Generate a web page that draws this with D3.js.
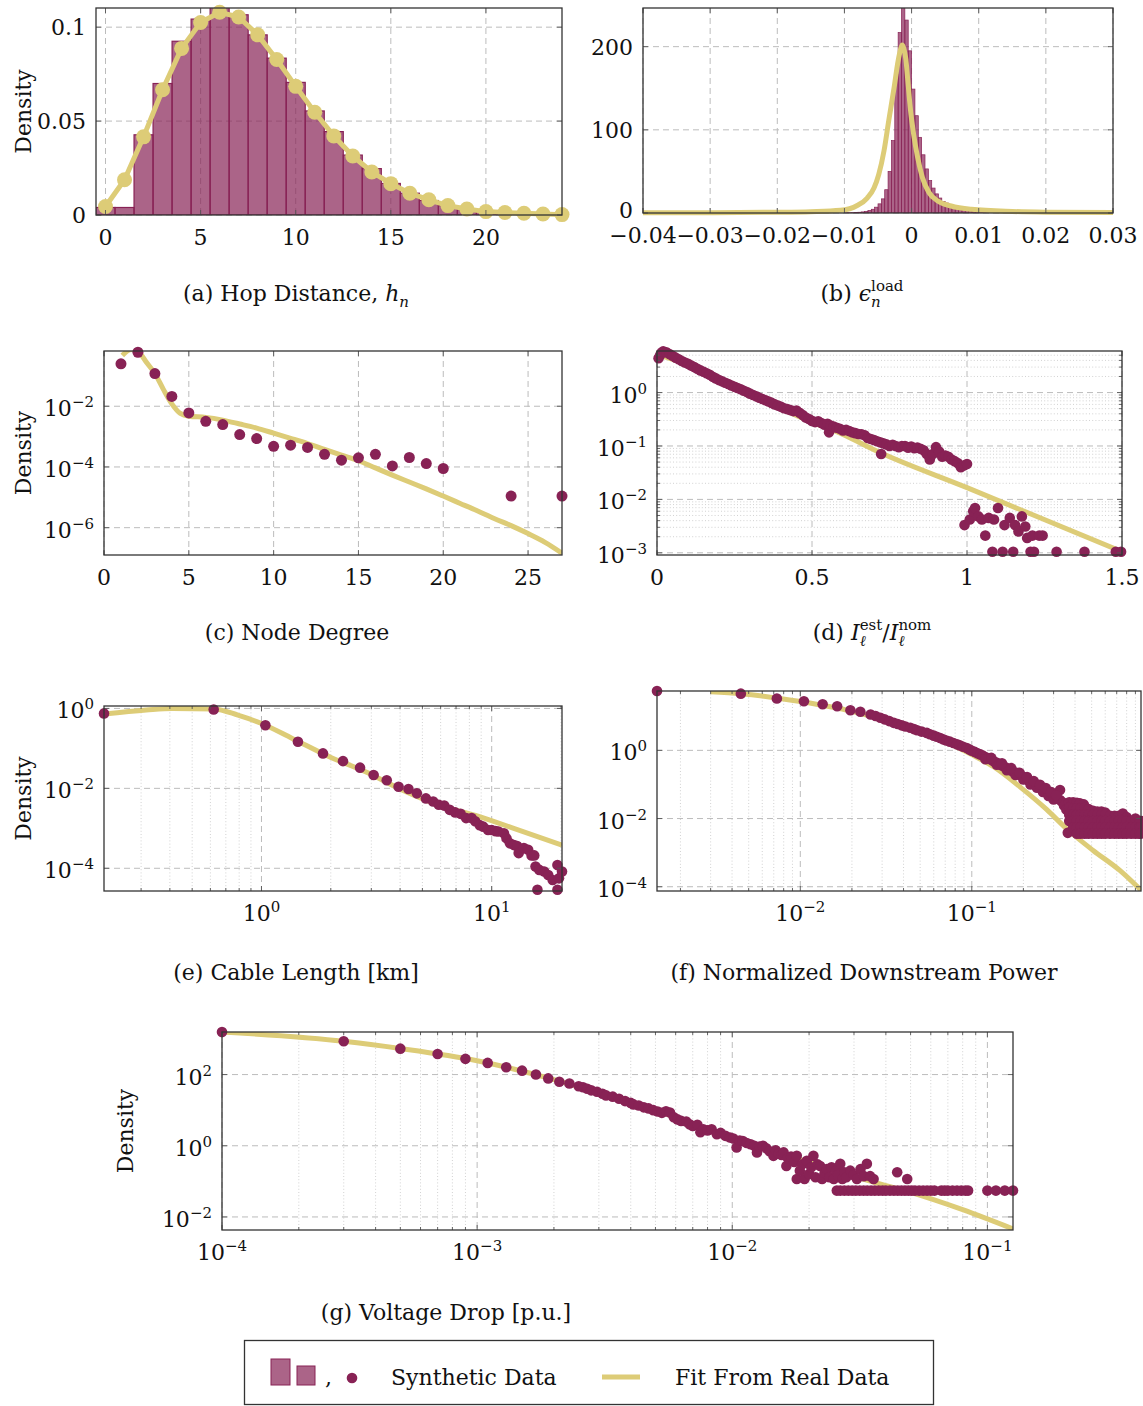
<!DOCTYPE html>
<html>
<head>
<meta charset="utf-8">
<script src="https://cdn.jsdelivr.net/npm/d3@7/dist/d3.min.js"></script>
<style>
html,body{margin:0;padding:0;background:#fff;}
svg text{font-family:"DejaVu Serif","Liberation Serif",serif;fill:#111;white-space:pre;}
</style>
</head>
<body>
<svg id="chart" width="1143" height="1406" xmlns="http://www.w3.org/2000/svg"></svg>
<script>
// ================= DATA =================
// (a) Hop distance
const hopBins=[0,1,2,3,4,5,6,7,8,9,10,11,12,13,14,15,16,17,18,19,20,21,22,23];
const hopDensity=[0.004,0.004,0.0427,0.070,0.0925,0.1043,0.113,0.1066,0.0959,0.0835,0.0706,0.0554,0.0444,0.0319,0.0247,0.0168,0.0116,0.0077,0.005,0.0029,0.0018,0.001,0.0005,0.0003];
const hopFitX=[0,1,2,3,4,5,6,7,8,9,10,11,12,13,14,15,16,17,18,19,20,21,22,23,24];
const hopFit=[0.0045,0.0188,0.0416,0.0667,0.0887,0.1025,0.1079,0.1054,0.0959,0.0828,0.0685,0.0547,0.0421,0.0314,0.0229,0.0167,0.0116,0.0081,0.005,0.0032,0.0018,0.0013,0.0009,0.0005,0.0002];
const hopXTicks=[0,5,10,15,20], hopXLabels=['0','5','10','15','20'];
const hopYTicks=[0,0.05,0.1], hopYLabels=['0','0.05','0.1'];

// (b) load error
const loadBinWidth=0.0005;
const loadBinLeft=[-0.0100,-0.0095,-0.0090,-0.0085,-0.0080,-0.0075,-0.0070,-0.0065,-0.0060,-0.0055,-0.0050,-0.0045,-0.0040,-0.0035,-0.0030,-0.0025,-0.0020,-0.0015,-0.0010,-0.0005,0.0000,0.0005,0.0010,0.0015,0.0020,0.0025,0.0030,0.0035,0.0040,0.0045,0.0050,0.0055,0.0060,0.0065,0.0070,0.0075,0.0080,0.0085,0.0090,0.0095,0.0100,0.0105,0.0110,0.0115,0.0120,0.0125,0.0130,0.0135];
const loadDensity=[0.2,0.3,0.4,0.6,0.9,1.3,2,3,4.5,7,11,17,28,50,87,167,217,260,232,195,149,117,91,70,53,39,30,23,18,14,12,9,7,6,4.5,3.5,3,2.5,2,1.7,1.4,1.2,1,0.8,0.6,0.5,0.4,0.3];
const loadFit=[[-0.04,0.25],[-0.03,0.4],[-0.02,0.9],[-0.015,1.6],[-0.0106,3.2],[-0.0081,9],[-0.0066,18],[-0.0056,30],[-0.0049,46],[-0.0041,75],[-0.0034,111],[-0.0026,151],[-0.002,183],[-0.0016,198],[-0.0014,202],[-0.0012,199],[-0.00085,185],[-0.0006,163],[-0.0002,127],[0.0003,95],[0.0009,67],[0.0016,43],[0.0026,24.5],[0.0039,14.5],[0.0059,8.4],[0.0089,4.4],[0.015,1.8],[0.02,1.0],[0.03,0.5]];
const loadXTicks=[-0.04,-0.03,-0.02,-0.01,0,0.01,0.02,0.03];
const loadXLabels=['\u22120.04','\u22120.03','\u22120.02','\u22120.01','0','0.01','0.02','0.03'];
const loadYTicks=[0,100,200], loadYLabels=['0','100','200'];

// (c) node degree
const degX=[1,2,3,4,5,6,7,8,9,10,11,12,13,14,15,16,17,18,19,20,24,27];
const degDensity=[0.25,0.6,0.119,0.021,0.006,0.0032,0.0025,0.00117,0.00086,0.00048,0.00052,0.00044,0.00026,0.000167,0.0002,0.00026,0.000108,0.000205,0.000129,0.000089,1.1e-5,1.1e-5];
const degFit=[[1.08,0.47],[1.5,0.72],[1.8,0.76],[2.1,0.58],[2.5,0.28],[3,0.12],[3.5,0.036],[4,0.012],[4.5,0.0058],[5,0.0047],[6,0.0043],[7,0.0035],[8,0.0026],[9,0.0019],[10,0.0013],[11,0.00088],[12,0.00059],[13,0.00038],[14,0.000245],[15,0.00016],[16,9.3e-5],[17,5.4e-5],[18,3.2e-5],[19,1.9e-5],[20,1.1e-5],[21,6.3e-6],[22,3.6e-6],[23,2.0e-6],[24,1.17e-6],[25,6.4e-7],[26,3.3e-7],[27,1.45e-7]];
const degXTicks=[0,5,10,15,20,25], degXLabels=['0','5','10','15','20','25'];
const degYTicks=[1e-2,1e-4,1e-6], degYExp=['\u22122','\u22124','\u22126'];

// (d) current ratio
const curDots=[[0.005,4.4],[0.01,5.0],[0.015,5.6],[0.02,5.9],[0.03,5.7],[0.04,5.25],[0.05,4.9],[0.06,4.5],[0.07,4.2],[0.08,3.9],[0.09,3.65],[0.10,3.45],[0.11,3.2],[0.12,3.0],[0.13,2.8],[0.14,2.6],[0.15,2.45],[0.16,2.3],[0.17,2.15],[0.18,1.97],[0.19,1.84],[0.20,1.71],[0.21,1.62],[0.22,1.53],[0.23,1.45],[0.24,1.36],[0.25,1.28],[0.26,1.22],[0.27,1.15],[0.28,1.08],[0.29,1.02],[0.30,0.955],[0.31,0.90],[0.32,0.85],[0.33,0.80],[0.34,0.76],[0.35,0.72],[0.36,0.68],[0.37,0.64],[0.38,0.60],[0.39,0.57],[0.40,0.54],[0.41,0.51],[0.42,0.49],[0.43,0.47],[0.44,0.45],[0.45,0.46],[0.46,0.42],[0.47,0.38],[0.48,0.34],[0.49,0.32],[0.50,0.295],[0.51,0.28],[0.52,0.29],[0.53,0.27],[0.54,0.25],[0.55,0.26],[0.555,0.18],[0.56,0.24],[0.57,0.23],[0.58,0.22],[0.59,0.21],[0.60,0.195],[0.61,0.2],[0.62,0.19],[0.63,0.18],[0.64,0.174],[0.65,0.168],[0.66,0.166],[0.67,0.158],[0.68,0.141],[0.69,0.135],[0.70,0.129],[0.71,0.123],[0.72,0.117],[0.723,0.071],[0.73,0.112],[0.74,0.107],[0.75,0.1],[0.76,0.105],[0.77,0.1],[0.78,0.095],[0.79,0.1],[0.80,0.1],[0.81,0.093],[0.82,0.098],[0.83,0.091],[0.84,0.093],[0.85,0.089],[0.86,0.083],[0.87,0.071],[0.88,0.056],[0.89,0.071],[0.90,0.095],[0.91,0.079],[0.92,0.063],[0.93,0.066],[0.94,0.063],[0.95,0.056],[0.96,0.052],[0.97,0.048],[0.98,0.04],[0.99,0.043],[1.00,0.046],
 [0.992,0.0033],[1.009,0.0042],[1.02,0.006],[1.026,0.0069],[1.037,0.0048],[1.048,0.0042],[1.059,0.0021],[1.07,0.0045],[1.087,0.0042],[1.10,0.0069],[1.082,0.00105],[1.115,0.00105],[1.121,0.0033],[1.138,0.0045],[1.149,0.00105],[1.155,0.0033],[1.166,0.0025],[1.177,0.0048],[1.188,0.0031],[1.194,0.0019],[1.205,0.00105],[1.211,0.0021],[1.216,0.00105],[1.233,0.0021],[1.244,0.0021],[1.289,0.00105],[1.379,0.00105],[1.48,0.00105],[1.497,0.00105]];
const curFit=[[0,5.2],[0.1,3.3],[0.25,1.2],[0.4,0.5],[0.5,0.28],[0.6,0.165],[0.7,0.085],[1.0,0.0166],[1.5,0.00105]];
const curXTicks=[0,0.5,1,1.5], curXLabels=['0','0.5','1','1.5'];
const curYTicks=[1,0.1,0.01,0.001], curYExp=['0','\u22121','\u22122','\u22123'];

// (e) cable length
const cabDots=[[0.207,0.75],[0.62,0.94],[1.04,0.38],[1.44,0.147],[1.85,0.075],[2.26,0.048],[2.68,0.033],[3.07,0.0215],[3.5,0.016],[3.94,0.011],[4.35,0.0096],[4.73,0.0075],[5.18,0.0056],[5.57,0.0047],[5.89,0.0039],[6.22,0.0037],[6.57,0.0029],[6.94,0.0025],[7.33,0.0023],[7.74,0.0018],[8.18,0.0018],[8.48,0.0015],[8.87,0.0012],[9.19,0.0011],[9.64,0.00091],[10.0,0.00091],[10.4,0.00085],[10.7,0.00083],[11.3,0.00075],[11.6,0.00056],[12.0,0.00042],[12.5,0.00038],[12.9,0.00036],[13.1,0.00024],[13.8,0.00032],[14.4,0.00029],[14.9,0.00021],[15.3,0.00021],[15.5,0.00011],[16.1,9.1e-5],[15.8,2.9e-5],[16.9,8.3e-5],[17.6,6.8e-5],[18.4,5.1e-5],[19.3,0.00012],[19.3,2.9e-5],[19.6,5.6e-5],[20.2,8.3e-5]];
const cabFit=[[0.207,0.72],[0.316,0.91],[0.41,1.0],[0.62,0.97],[0.79,0.68],[1.0,0.42],[1.36,0.178],[1.97,0.062],[2.83,0.026],[4.08,0.0091],[5.9,0.0038],[8.5,0.0021],[12.2,0.00104],[20.2,0.00038]];
const cabXTicks=[1,10], cabXExp=['0','1'];
const cabYTicks=[1,0.01,1e-4], cabYExp=['0','\u22122','\u22124'];

// (f) normalized downstream power
const powDots=[[0.00146,55],[0.0045,46],[0.0073,33],[0.0105,27.6],[0.0135,22.5],[0.0164,19.6],[0.0196,15],[0.0224,13.5],[0.0257,11.3],[0.0275,10.2],[0.0293,9.0],[0.031,8.1],[0.033,7.2],[0.0351,6.4],[0.037,5.9],[0.039,5.4],[0.041,5.0],[0.0438,4.6],[0.046,4.2],[0.048,3.9],[0.051,3.55],[0.0547,3.25],[0.057,2.95],[0.06,2.7],[0.0625,2.5],[0.0654,2.3],[0.068,2.1],[0.071,1.95],[0.0745,1.8],[0.0782,1.65],[0.082,1.5],[0.085,1.4],[0.089,1.28],[0.0935,1.17],[0.097,1.05],[0.1,0.97],[0.104,0.9],[0.108,0.82],[0.112,0.76],[0.116,0.7],[0.12,0.64],[0.125,0.58],[0.13,0.53],[0.134,0.48],[0.139,0.44],[0.144,0.4],[0.15,0.36],[0.155,0.33],[0.16,0.3],[0.166,0.27],[0.172,0.245],[0.178,0.225],[0.184,0.205],[0.191,0.19],[0.198,0.17],[0.205,0.15],[0.212,0.135],[0.22,0.12],[0.228,0.108],[0.236,0.096],[0.245,0.086],[0.254,0.077],[0.263,0.069],[0.273,0.061],[0.283,0.054],[0.293,0.048],[0.305,0.043],[0.315,0.039],[0.327,0.069],[0.327,0.035],[0.338,0.03],[0.345,0.024],[0.356,0.0185],[0.363,0.0038],
 [0.12,0.55],[0.14,0.38],[0.16,0.26],[0.18,0.19],[0.2,0.14],[0.22,0.1],[0.24,0.08],[0.26,0.06],[0.28,0.046],[0.3,0.036],[0.13,0.6],[0.15,0.42],[0.17,0.3],[0.19,0.22],[0.21,0.165],[0.23,0.125],[0.25,0.098],[0.27,0.078],[0.29,0.06],[0.31,0.048],
 [0.37,0.03],[0.39,0.03],[0.41,0.029],[0.427,0.028],[0.45,0.026],
 [0.37,0.021],[0.39,0.02],[0.41,0.02],[0.43,0.02],[0.455,0.021],[0.48,0.019],[0.51,0.017],[0.54,0.016],[0.57,0.016],[0.6,0.015],
 [0.37,0.013],[0.39,0.013],[0.41,0.013],[0.43,0.013],[0.455,0.013],[0.48,0.013],[0.51,0.013],[0.54,0.013],[0.57,0.013],[0.6,0.013],[0.64,0.012],[0.68,0.012],[0.72,0.012],[0.76,0.014],[0.8,0.011],
 [0.37,0.0085],[0.39,0.0085],[0.41,0.0085],[0.43,0.0085],[0.455,0.0085],[0.48,0.0085],[0.51,0.0085],[0.54,0.0085],[0.57,0.0085],[0.6,0.0085],[0.64,0.0085],[0.68,0.0085],[0.72,0.0085],[0.76,0.0085],[0.8,0.0085],[0.85,0.0085],[0.9,0.01],[0.95,0.0085],[0.97,0.0085],
 [0.39,0.0055],[0.41,0.0055],[0.43,0.0055],[0.455,0.0055],[0.48,0.0055],[0.51,0.0055],[0.54,0.0055],[0.57,0.0055],[0.6,0.0055],[0.64,0.0055],[0.68,0.0055],[0.72,0.0055],[0.76,0.0055],[0.8,0.0055],[0.85,0.0055],[0.9,0.0055],[0.95,0.0055],[0.97,0.0055],
 [0.41,0.0036],[0.43,0.0036],[0.455,0.0036],[0.48,0.0036],[0.51,0.0036],[0.54,0.0036],[0.57,0.0036],[0.6,0.0036],[0.64,0.0036],[0.68,0.0036],[0.72,0.0036],[0.76,0.0036],[0.8,0.0036],[0.85,0.0036],[0.9,0.0036],[0.95,0.0036],[0.97,0.0036]];
const powFit=[[0.003,52],[0.0045,46],[0.01,27],[0.02,14],[0.05,3.4],[0.07,1.8],[0.1,0.75],[0.134,0.33],[0.191,0.085],[0.273,0.0185],[0.356,0.0051],[0.51,0.00116],[0.73,3.0e-4],[0.97,7.9e-5]];
const powXTicks=[0.01,0.1], powXExp=['\u22122','\u22121'];
const powYTicks=[1,0.01,1e-4], powYExp=['0','\u22122','\u22124'];

// (g) voltage drop
const vdDots=[[0.0001,1570],[0.0003,860],[0.0005,535],[0.0007,380],[0.0009,276],[0.0011,213],[0.0013,160],[0.0015,129],[0.0017,100],[0.0019,78],[0.0021,63],[0.0023,56],[0.0025,47],[0.0026,44],[0.0027,40],[0.0028,36],[0.00295,33],[0.0031,29],[0.0032,26],[0.0034,24],[0.0036,21],[0.0038,18],[0.0040,16],[0.0041,14.5],[0.0043,13.5],[0.0045,12],[0.0047,11.2],[0.0049,10],[0.0051,9.2],[0.0053,8.4],[0.0055,9.3],[0.0057,8.6],[0.0059,6.3],[0.0061,5.5],[0.0063,5.0],[0.0066,4.8],[0.0068,4.0],[0.0070,3.6],[0.0073,3.9],[0.0075,2.4],[0.0077,2.9],[0.0080,2.7],[0.0083,2.9],[0.0087,2.1],[0.0090,2.3],[0.0094,1.9],[0.0098,1.7],[0.0101,1.6],[0.0104,0.9],[0.0107,1.4],[0.0110,1.35],[0.0114,1.2],[0.0118,1.1],[0.0122,1.0],[0.0125,0.65],[0.0128,0.95],[0.0132,1.0],[0.0136,0.85],[0.014,0.7],[0.0145,0.52],[0.0148,0.75],[0.0152,0.6],[0.0156,0.55],[0.0159,0.65],[0.0163,0.27],[0.0165,0.45],[0.0170,0.5],[0.0175,0.35],[0.0179,0.52],[0.0179,0.116],[0.0184,0.2],[0.0188,0.3],[0.0192,0.116],[0.0196,0.38],[0.0200,0.16],[0.0204,0.25],[0.0208,0.52],[0.0212,0.13],[0.0216,0.3],[0.0221,0.27],[0.0225,0.116],[0.0230,0.17],[0.0235,0.22],[0.0240,0.13],[0.0245,0.25],[0.0250,0.116],[0.0255,0.2],[0.0260,0.15],[0.0265,0.31],[0.0270,0.116],[0.0275,0.18],[0.0280,0.13],[0.0290,0.2],[0.0299,0.15],[0.0308,0.116],[0.0318,0.22],[0.0328,0.14],[0.0337,0.31],[0.0347,0.14],[0.0358,0.116],[0.0443,0.18],[0.0485,0.116],
 [0.0257,0.055],[0.0265,0.055],[0.0275,0.055],[0.0285,0.055],[0.0295,0.055],[0.0305,0.055],[0.0316,0.055],[0.0327,0.055],[0.0338,0.055],[0.035,0.055],[0.0362,0.055],[0.0375,0.055],[0.0388,0.055],[0.04,0.055],[0.0415,0.055],[0.043,0.055],[0.0445,0.055],[0.046,0.055],[0.0475,0.055],[0.049,0.055],[0.0505,0.055],[0.052,0.055],[0.054,0.055],[0.056,0.055],[0.058,0.055],[0.06,0.055],[0.062,0.055],[0.066,0.055],[0.068,0.055],[0.070,0.055],[0.073,0.055],[0.076,0.055],[0.079,0.055],[0.082,0.055],[0.084,0.055],[0.1,0.055],[0.108,0.055],[0.117,0.055],[0.126,0.055]];
const vdFit=[[1e-4,1570],[3e-4,860],[5e-4,540],[1e-3,245],[2e-3,72],[3e-3,30],[5e-3,10],[0.0075,3.4],[0.01,1.6],[0.015,0.65],[0.02,0.34],[0.036,0.094],[0.05,0.049],[0.08,0.016],[0.126,0.0046]];
const vdXTicks=[1e-4,1e-3,1e-2,1e-1], vdXExp=['\u22124','\u22123','\u22122','\u22121'];
const vdYTicks=[100,1,0.01], vdYExp=['2','0','\u22122'];

// legend
const legendLabels=['Synthetic Data','Fit From Real Data'];

// ================= DRAWING =================
const WINE='#882255', SAND='#DDCC77';
const svg=d3.select('#chart');
svg.append('rect').attr('width',1143).attr('height',1406).attr('fill','#fff');
const defs=svg.append('defs');
const FS=22;

function logMinor(dom){
  const lo=Math.min(dom[0],dom[1]), hi=Math.max(dom[0],dom[1]), out=[];
  for(let k=Math.floor(Math.log10(lo));k<=Math.ceil(Math.log10(hi));k++)
    for(let m=2;m<=9;m++){const v=m*Math.pow(10,k); if(v>=lo*1.001&&v<=hi*0.999) out.push(v);}
  return out;
}
function expLabel(sel,e){
  sel.append('tspan').text('10');
  sel.append('tspan').attr('dy',-9).attr('font-size',15).text(e);
}
let clipN=0;
function panel(o){
  const g=svg.append('g');
  const x=(o.xLog?d3.scaleLog():d3.scaleLinear()).domain(o.xDomain).range([o.l,o.r]);
  const y=(o.yLog?d3.scaleLog():d3.scaleLinear()).domain(o.yDomain).range([o.b,o.t]);
  const id='clip'+(++clipN);
  defs.append('clipPath').attr('id',id).append('rect').attr('x',o.l).attr('y',o.t).attr('width',o.r-o.l).attr('height',o.b-o.t);
  const xMinor=o.xLog?logMinor(o.xDomain):[];
  const yMinor=o.yLog?logMinor(o.yDomain):[];
  const grid=g.append('g');
  if(o.xMinorGrid) grid.append('g').selectAll('line').data(xMinor).join('line')
     .attr('x1',d=>x(d)).attr('x2',d=>x(d)).attr('y1',o.t).attr('y2',o.b)
     .attr('stroke','#c6c6c6').attr('stroke-width',0.8).attr('stroke-dasharray','1 2.2');
  if(o.yMinorGrid) grid.append('g').selectAll('line').data(yMinor).join('line')
     .attr('y1',d=>y(d)).attr('y2',d=>y(d)).attr('x1',o.l).attr('x2',o.r)
     .attr('stroke','#c6c6c6').attr('stroke-width',0.8).attr('stroke-dasharray','1 2.2');
  grid.append('g').selectAll('line').data(o.xTicks).join('line')
     .attr('x1',d=>x(d)).attr('x2',d=>x(d)).attr('y1',o.t).attr('y2',o.b)
     .attr('stroke','#bcbcbc').attr('stroke-width',1).attr('stroke-dasharray','6 4');
  grid.append('g').selectAll('line').data(o.yTicks).join('line')
     .attr('y1',d=>y(d)).attr('y2',d=>y(d)).attr('x1',o.l).attr('x2',o.r)
     .attr('stroke','#bcbcbc').attr('stroke-width',1).attr('stroke-dasharray','6 4');
  const plot=g.append('g');
  const clipped=plot.append('g').attr('clip-path',`url(#${id})`);
  const free=plot.append('g');
  const ax=g.append('g');
  const tickCol='#555';
  function xMarks(vals,len){
    ax.append('g').selectAll('line').data(vals).join('line').attr('x1',d=>x(d)).attr('x2',d=>x(d)).attr('y1',o.b).attr('y2',o.b-len).attr('stroke',tickCol).attr('stroke-width',0.9);
    ax.append('g').selectAll('line').data(vals).join('line').attr('x1',d=>x(d)).attr('x2',d=>x(d)).attr('y1',o.t).attr('y2',o.t+len).attr('stroke',tickCol).attr('stroke-width',0.9);
  }
  function yMarks(vals,len){
    ax.append('g').selectAll('line').data(vals).join('line').attr('y1',d=>y(d)).attr('y2',d=>y(d)).attr('x1',o.l).attr('x2',o.l+len).attr('stroke',tickCol).attr('stroke-width',0.9);
    ax.append('g').selectAll('line').data(vals).join('line').attr('y1',d=>y(d)).attr('y2',d=>y(d)).attr('x1',o.r).attr('x2',o.r-len).attr('stroke',tickCol).attr('stroke-width',0.9);
  }
  xMarks(o.xTicks,5); yMarks(o.yTicks,5);
  if(o.xLog) xMarks(xMinor,3);
  if(o.yLog && o.yMinorTicks) yMarks(yMinor,3);
  ax.append('g').selectAll('text').data(o.xTicks).join('text')
    .attr('x',d=>x(d)).attr('y',o.b+30).attr('text-anchor','middle').attr('font-size',FS)
    .each(function(d,i){const s=d3.select(this); if(o.xExp) expLabel(s,o.xExp[i]); else s.text(o.xLabels[i]);});
  ax.append('g').selectAll('text').data(o.yTicks).join('text')
    .attr('x',o.l-10).attr('y',(d,i)=>y(d)+(o.yExp?10:8)-((o.yLift&&i===0)?o.yLift:0)).attr('text-anchor','end').attr('font-size',FS)
    .each(function(d,i){const s=d3.select(this); if(o.yExp) expLabel(s,o.yExp[i]); else s.text(o.yLabels[i]);});
  ax.append('rect').attr('x',o.l).attr('y',o.t).attr('width',o.r-o.l).attr('height',o.b-o.t)
    .attr('fill','none').attr('stroke','#333').attr('stroke-width',1.3);
  if(o.ylabelX!==undefined){
    ax.append('text').attr('transform',`translate(${o.ylabelX},${(o.t+o.b)/2}) rotate(-90)`)
      .attr('text-anchor','middle').attr('font-size',FS).text('Density');
  }
  return {g,x,y,clipped,free};
}
function caption(cx,y,parts){
  const g=svg.append('g');
  let x=0, prevStart=0;
  parts.forEach(p=>{
    const small=p.sup||p.sub;
    const start=p.stack?prevStart:x;
    const t=g.append('text').attr('x',start).attr('y',y+(p.sup?-10:p.sub?6:0))
      .attr('xml:space','preserve')
      .attr('font-size',small?15:FS).style('font-style',p.it?'italic':null).text(p.t);
    const w=t.node().getComputedTextLength();
    x=p.stack?Math.max(x,start+w):start+w;
    prevStart=start;
  });
  g.attr('transform',`translate(${cx-x/2},0)`);
}
function dots(P,data,r){
  P.free.append('g').selectAll('circle').data(data).join('circle')
    .attr('cx',d=>P.x(d[0])).attr('cy',d=>P.y(d[1])).attr('r',r).attr('fill',WINE);
}
function fitLine(P,data,curve,clip,w){
  (clip?P.clipped:P.free).append('path').datum(data)
    .attr('d',d3.line().x(d=>P.x(d[0])).y(d=>P.y(d[1])).curve(curve))
    .attr('fill','none').attr('stroke',SAND).attr('stroke-width',w||5).attr('stroke-linejoin','round');
}

// ----- (a) -----
const A=panel({l:96,r:562,t:8,b:215,xDomain:[-0.5,24],yDomain:[0,0.1102],
  xTicks:hopXTicks,xLabels:hopXLabels,yTicks:hopYTicks,yLabels:hopYLabels,ylabelX:31});
A.clipped.append('g').selectAll('rect').data(hopBins).join('rect')
  .attr('x',d=>A.x(d-0.5)).attr('width',d=>A.x(d+0.5)-A.x(d-0.5))
  .attr('y',(d,i)=>A.y(hopDensity[i])).attr('height',(d,i)=>A.y(0)-A.y(hopDensity[i]))
  .attr('fill',WINE).attr('fill-opacity',0.7).attr('stroke',WINE).attr('stroke-width',1.2);
A.free.append('path').datum(hopFitX.map((v,i)=>[v,hopFit[i]]))
  .attr('d',d3.line().x(d=>A.x(d[0])).y(d=>A.y(d[1])))
  .attr('fill','none').attr('stroke',SAND).attr('stroke-width',5).attr('stroke-linejoin','round');
A.free.append('g').selectAll('circle').data(hopFitX).join('circle')
  .attr('cx',d=>A.x(d)).attr('cy',(d,i)=>A.y(hopFit[i])).attr('r',7.5).attr('fill',SAND);
caption(296,301,[{t:'(a) Hop Distance, '},{t:'h',it:true},{t:'n',it:true,sub:true}]);

// ----- (b) -----
const Bp=panel({l:643,r:1113,t:8,b:213,xDomain:[-0.04,0.03],yDomain:[0,246.5],
  xTicks:loadXTicks,xLabels:loadXLabels,yTicks:loadYTicks,yLabels:loadYLabels,yLift:3});
Bp.clipped.append('g').selectAll('rect').data(loadBinLeft).join('rect')
  .attr('x',d=>Bp.x(d)).attr('width',d=>Bp.x(d+loadBinWidth)-Bp.x(d))
  .attr('y',(d,i)=>Bp.y(loadDensity[i])).attr('height',(d,i)=>Bp.y(0)-Bp.y(loadDensity[i]))
  .attr('fill',WINE).attr('fill-opacity',0.7).attr('stroke',WINE).attr('stroke-width',0.7);
fitLine(Bp,loadFit,d3.curveMonotoneX,false,5);
caption(862,301,[{t:'(b) '},{t:'\u03F5',it:true},{t:'load',sup:true},{t:'n',it:true,sub:true,stack:true}]);

// ----- (c) -----
const C=panel({l:104,r:562,t:351,b:555,xDomain:[0,27],yLog:true,yDomain:[1.26e-7,0.66],
  xTicks:degXTicks,xLabels:degXLabels,yTicks:degYTicks,yExp:degYExp,ylabelX:31});
fitLine(C,degFit,d3.curveMonotoneX,true,5);
dots(C,degX.map((v,i)=>[v,degDensity[i]]),5.5);
caption(297,640,[{t:'(c) Node Degree'}]);

// ----- (d) -----
const D=panel({l:657,r:1122,t:351,b:555,xDomain:[0,1.5],yLog:true,yDomain:[9.1e-4,6.0],
  xTicks:curXTicks,xLabels:curXLabels,yTicks:curYTicks,yExp:curYExp,yMinorGrid:true,yMinorTicks:true});
fitLine(D,curFit,d3.curveMonotoneX,true,5);
dots(D,curDots,5.3);
caption(872,640,[{t:'(d) '},{t:'I',it:true},{t:'est',sup:true},{t:'\u2113',it:true,sub:true,stack:true},{t:'/'},{t:'I',it:true},{t:'nom',sup:true},{t:'\u2113',it:true,sub:true,stack:true}]);

// ----- (e) -----
const E=panel({l:104,r:562,t:706,b:891,xLog:true,xDomain:[0.207,20.2],yLog:true,yDomain:[2.7e-5,1.15],
  xTicks:cabXTicks,xExp:cabXExp,yTicks:cabYTicks,yExp:cabYExp,xMinorGrid:true,ylabelX:31});
fitLine(E,cabFit,d3.curveMonotoneX,true,5);
dots(E,cabDots,5.3);
caption(296,980,[{t:'(e) Cable Length [km]'}]);

// ----- (f) -----
const F=panel({l:657,r:1141,t:691,b:891,xLog:true,xDomain:[0.00146,0.97],yLog:true,yDomain:[7.5e-5,55],
  xTicks:powXTicks,xExp:powXExp,yTicks:powYTicks,yExp:powYExp,xMinorGrid:true});
fitLine(F,powFit,d3.curveMonotoneX,true,5);
dots(F,powDots,5.3);
caption(864,980,[{t:'(f) Normalized Downstream Power'}]);

// ----- (g) -----
const G=panel({l:222,r:1013,t:1032,b:1230,xLog:true,xDomain:[1e-4,0.126],yLog:true,yDomain:[0.0043,1570],
  xTicks:vdXTicks,xExp:vdXExp,yTicks:vdYTicks,yExp:vdYExp,xMinorGrid:true,ylabelX:133});
fitLine(G,vdFit,d3.curveMonotoneX,true,5);
dots(G,vdDots,5.3);
caption(446,1320,[{t:'(g) Voltage Drop [p.u.]'}]);

// ----- legend -----
const lg=svg.append('g');
lg.append('rect').attr('x',244.5).attr('y',1340.5).attr('width',689).attr('height',64)
  .attr('fill','#fff').attr('stroke','#333').attr('stroke-width',1.3);
lg.append('rect').attr('x',271).attr('y',1359).attr('width',19).attr('height',26)
  .attr('fill',WINE).attr('fill-opacity',0.7).attr('stroke',WINE).attr('stroke-width',1);
lg.append('rect').attr('x',297).attr('y',1366).attr('width',18).attr('height',19)
  .attr('fill',WINE).attr('fill-opacity',0.7).attr('stroke',WINE).attr('stroke-width',1);
lg.append('text').attr('x',325).attr('y',1385).attr('font-size',FS).text(',');
lg.append('circle').attr('cx',352).attr('cy',1378).attr('r',5.3).attr('fill',WINE);
lg.append('text').attr('x',391).attr('y',1385).attr('font-size',FS).text(legendLabels[0]);
lg.append('line').attr('x1',602).attr('x2',640).attr('y1',1377).attr('y2',1377).attr('stroke',SAND).attr('stroke-width',5);
lg.append('text').attr('x',675).attr('y',1385).attr('font-size',FS).text(legendLabels[1]);
</script>
</body>
</html>
